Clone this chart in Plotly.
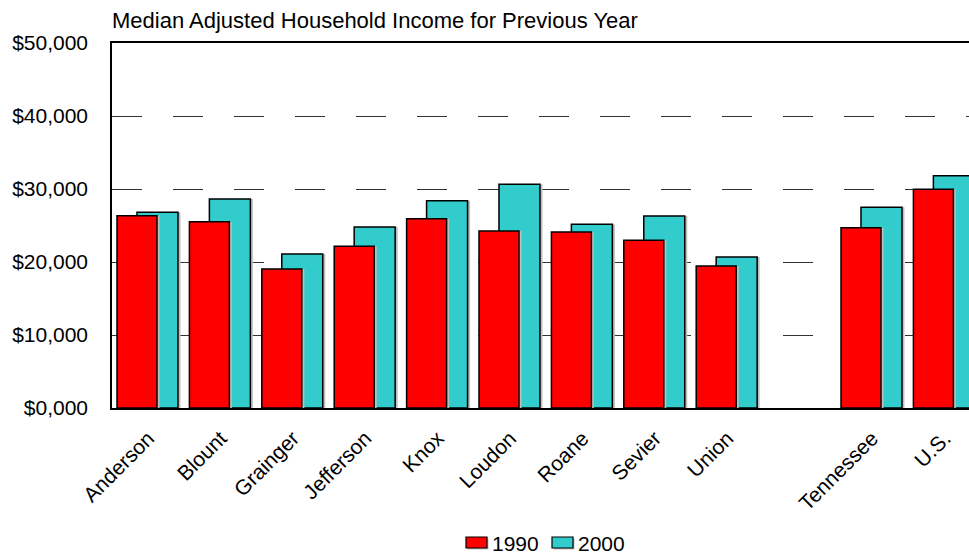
import plotly.graph_objects as go

# Median adjusted household income by area (dollars)
areas = ["Anderson", "Blount", "Grainger", "Jefferson", "Knox", "Loudon",
         "Roane", "Sevier", "Union", "Tennessee", "U.S."]
income_1990 = [26340, 25520, 19040, 22150, 25930, 24250, 24110, 22970, 19450, 24700, 29960]
income_2000 = [26800, 28630, 21100, 24790, 28400, 30640, 25160, 26300, 20680, 27490, 31820]

# a blank slot separates the counties from the state and national figures
positions = [0, 1, 2, 3, 4, 5, 6, 7, 8, 10, 11]

y_ticks = [0, 10000, 20000, 30000, 40000, 50000]
y_tick_text = ["$0,000", "$10,000", "$20,000", "$30,000", "$40,000", "$50,000"]

series_names = ["1990", "2000"]

FONT = "Liberation Sans, Arial, sans-serif"
RED = "#FF0000"
CYAN = "#33CCCC"
SHADOW = "#BDBDBD"

W, H = 969, 554
L, T, B = 112, 43, 146
plot_w, plot_h = W - L, H - T - B

band_px = 72.4
px = 1.0 / band_px

fig = go.Figure()

# 2000 bars sit behind and to the right of the 1990 bars, each with a soft shadow
fig.add_trace(go.Bar(
    x=positions, y=income_2000, offset=-0.155 + 2.5 * px, width=0.566,
    marker=dict(color=SHADOW, line=dict(width=0)), showlegend=False, hoverinfo="skip",
))
fig.add_trace(go.Bar(
    x=positions, y=income_2000, offset=-0.155, width=0.566, name=series_names[1],
    marker=dict(color=CYAN, line=dict(color="black", width=1.5)), showlegend=False,
))
fig.add_trace(go.Bar(
    x=positions, y=income_1990, offset=-0.431 + 2.5 * px, width=0.5525,
    marker=dict(color=SHADOW, line=dict(width=0)), showlegend=False, hoverinfo="skip",
))
fig.add_trace(go.Bar(
    x=positions, y=income_1990, offset=-0.431, width=0.5525, name=series_names[0],
    marker=dict(color=RED, line=dict(color="black", width=1.5)), showlegend=False,
))


def to_paper(x_px, y_px):
    return (x_px - L) / plot_w, (H - B - y_px) / plot_h


# legend drawn below the plot: swatch boxes followed by labels
shapes = []
annotations = []
for name, color, x0 in [(series_names[0], RED, 466), (series_names[1], CYAN, 552)]:
    sx0, sy0 = to_paper(x0 + 1.5, 549.5)
    sx1, sy1 = to_paper(x0 + 22.5, 538.5)
    shapes.append(dict(type="rect", xref="paper", yref="paper",
                       x0=sx0, x1=sx1, y0=sy0, y1=sy1,
                       fillcolor=SHADOW, line=dict(width=0), layer="above"))
    bx0, by0 = to_paper(x0, 548)
    bx1, by1 = to_paper(x0 + 21, 537)
    shapes.append(dict(type="rect", xref="paper", yref="paper",
                       x0=bx0, x1=bx1, y0=by0, y1=by1,
                       fillcolor=color, line=dict(color="black", width=1.2), layer="above"))
    tx, ty = to_paper(x0 + 24, 543)
    annotations.append(dict(text=name, xref="paper", yref="paper", x=tx, y=ty,
                            xanchor="left", yanchor="middle", showarrow=False,
                            font=dict(size=21, family=FONT, color="black")))

fig.update_layout(
    width=W, height=H,
    margin=dict(l=L, r=0, t=T, b=B, autoexpand=False),
    paper_bgcolor="white", plot_bgcolor="white",
    barmode="overlay",
    showlegend=False,
    font=dict(family=FONT, color="black"),
    title=dict(
        text="Median Adjusted Household Income for Previous Year",
        xref="container", x=112 / W, xanchor="left",
        yref="container", y=1 - 20 / H, yanchor="middle",
        font=dict(size=22, family=FONT, color="black"),
    ),
    shapes=shapes,
    annotations=annotations,
    xaxis=dict(
        range=[-0.5, -0.5 + plot_w / band_px],
        tickmode="array", tickvals=positions, ticktext=areas,
        tickangle=-45, tickfont=dict(size=21, family=FONT),
        showgrid=False, zeroline=False,
        showline=True, linecolor="black", linewidth=1.5, mirror=True,
        ticks="", ticklabelstandoff=8, automargin=False,
    ),
    yaxis=dict(
        range=[0, 50000],
        tickmode="array", tickvals=y_ticks, ticktext=y_tick_text,
        tickfont=dict(size=21, family=FONT),
        showgrid=True, gridcolor="#333333", gridwidth=1, griddash="30px,31px",
        zeroline=False,
        showline=True, linecolor="black", linewidth=1.5, mirror=False,
        ticks="", ticklabelstandoff=18, automargin=False,
    ),
)

fig.write_html("out.html")
